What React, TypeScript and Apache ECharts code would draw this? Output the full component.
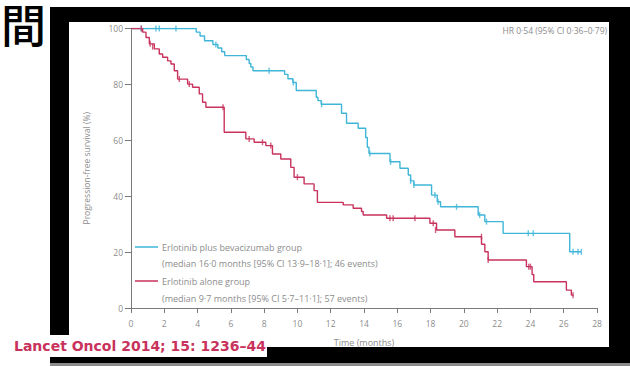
import React, { useEffect, useRef } from "react";
import * as echarts from "echarts";

// Kaplan-Meier steps: [time (months), progression-free survival (%)]
const comboKM: [number, number][] = [
  [0, 100], [3.92, 98.7], [4.15, 97.3], [4.42, 95.6], [4.92, 94.3], [5.22, 93.0],
  [5.45, 91.7], [5.63, 90.3], [6.93, 88.9], [7.1, 87.5], [7.2, 86.2], [7.33, 84.9],
  [9.23, 83.6], [9.43, 82.0], [9.73, 80.7], [9.93, 77.8], [11.13, 75.4], [11.23, 74.2],
  [11.43, 72.9], [12.65, 69.7], [12.95, 66.1], [13.65, 64.3], [14.1, 61.0], [14.2, 57.5],
  [14.3, 55.3], [15.56, 52.3], [16.16, 50.0], [16.66, 47.6], [16.8, 45.5], [17.0, 44.0],
  [18.06, 40.4], [18.4, 38.0], [18.6, 36.2], [20.86, 33.3], [21.26, 30.9], [22.36, 26.7],
  [26.36, 20.1], [27.06, 20.1],
];
const comboCensored: [number, number][] = [
  [0.62, 100], [1.5, 100], [1.7, 100], [2.7, 100], [5.1, 94.3], [8.3, 84.9], [9.75, 80.7],
  [11.45, 72.9], [14.35, 55.3], [15.6, 52.3], [16.8, 45.5], [17.0, 44.0], [18.26, 40.4],
  [18.45, 38.0], [19.56, 36.2], [20.95, 33.3], [21.36, 30.9], [23.87, 26.7], [24.17, 26.7],
  [26.56, 20.1], [26.86, 20.1], [27.06, 20.1],
];
const aloneKM: [number, number][] = [
  [0, 100], [0.7, 98.7], [0.9, 96.8], [1.1, 94.5], [1.4, 92.7], [1.7, 90.9], [1.9, 89.7],
  [2.2, 88.4], [2.4, 87.3], [2.6, 84.9], [2.8, 81.9], [3.4, 80.1], [3.7, 79.0], [4.1, 76.6],
  [4.3, 73.6], [4.5, 71.8], [5.6, 62.9], [6.9, 60.5], [7.4, 59.3], [8.1, 58.1], [8.5, 55.1],
  [9.0, 53.3], [9.6, 50.3], [9.8, 46.8], [10.4, 44.4], [11.0, 42.0], [11.2, 37.8],
  [12.75, 36.9], [13.35, 35.7], [13.85, 34.5], [13.95, 33.3], [15.36, 32.1], [17.96, 30.3],
  [18.36, 27.9], [19.46, 25.5], [21.06, 22.8], [21.26, 20.1], [21.46, 17.2], [23.76, 14.8],
  [24.1, 12.0], [24.2, 9.4], [26.16, 6.4], [26.46, 4.6], [26.6, 4.6],
];
const aloneCensored: [number, number][] = [
  [0.62, 100], [1.15, 94.5], [1.3, 93.5], [2.9, 81.9], [3.5, 80.1], [5.53, 71.8], [7.1, 60.5],
  [7.9, 59.3], [8.4, 58.1], [10.0, 46.8], [15.56, 32.1], [15.75, 32.1], [17.06, 32.1],
  [18.16, 30.3], [18.3, 27.9], [21.06, 25.5], [21.46, 17.2], [23.9, 14.8], [24.0, 14.8],
  [26.56, 4.6],
];

const groupNames = ["Erlotinib plus bevacizumab group", "Erlotinib alone group"];
const groupDetails = [
  "(median 16·0 months [95% CI 13·9–18·1]; 46 events)",
  "(median 9·7 months [95% CI 5·7–11·1]; 57 events)",
];
const hrText = "HR 0·54 (95% CI 0·36–0·79)";
const xTitle = "Time (months)";
const yTitle = "Progression-free survival (%)";
const citation = "Lancet Oncol 2014; 15: 1236–44";
const cornerChar = "間";

const BLUE = "#3fb6d8";
const RED = "#c8325c";
const GREY_TXT = "#8c8c8c";
const AXIS = "#7a7a7a";
const FONT = "'Open Sans', 'Noto Sans', sans-serif";

export default function App() {
  const ref = useRef<HTMLDivElement>(null);
  useEffect(() => {
    if (!ref.current) return;
    const chart = echarts.init(ref.current, undefined, { renderer: "svg" });
    const legendText = (x: number, y: number, t: string) => ({
      type: "text", x, y, z: 50,
      style: { text: t, fill: GREY_TXT, font: `9px ${FONT}`, textVerticalAlign: "middle" },
    });
    chart.setOption({
      animation: false,
      backgroundColor: "#ffffff",
      grid: { left: 131, right: 33, top: 28.5, bottom: 58 },
      xAxis: {
        type: "value", min: 0, max: 28, interval: 2,
        name: xTitle, nameLocation: "middle", nameGap: 30,
        nameTextStyle: { color: GREY_TXT, fontSize: 9, fontFamily: FONT },
        axisLine: { show: true, lineStyle: { color: AXIS, width: 1 } },
        axisTick: { show: true, length: 5, lineStyle: { color: AXIS } },
        axisLabel: { color: GREY_TXT, fontSize: 8.5, fontFamily: FONT, margin: 11 },
        splitLine: { show: false },
      },
      yAxis: {
        type: "value", min: 0, max: 100, interval: 20,
        name: yTitle, nameLocation: "middle", nameGap: 40,
        nameTextStyle: { color: GREY_TXT, fontSize: 8.5, fontFamily: FONT },
        axisLine: { show: true, lineStyle: { color: AXIS, width: 1 } },
        axisTick: { show: true, length: 6, lineStyle: { color: AXIS } },
        axisLabel: { color: GREY_TXT, fontSize: 8.5, fontFamily: FONT, margin: 8 },
        splitLine: { show: false },
      },
      series: [
        {
          type: "line", step: "end", data: comboKM, showSymbol: false, z: 3,
          lineStyle: { color: BLUE, width: 1.4 }, itemStyle: { color: BLUE },
        },
        {
          type: "scatter", data: comboCensored, symbol: "rect", symbolSize: [1.4, 6], z: 4,
          itemStyle: { color: BLUE },
        },
        {
          type: "line", step: "end", data: aloneKM, showSymbol: false, z: 3,
          lineStyle: { color: RED, width: 1.4 }, itemStyle: { color: RED },
        },
        {
          type: "scatter", data: aloneCensored, symbol: "rect", symbolSize: [1.4, 6], z: 4,
          itemStyle: { color: RED },
        },
      ],
      graphic: [
        { type: "line", z: 50, shape: { x1: 135, y1: 247, x2: 158, y2: 247 }, style: { stroke: BLUE, lineWidth: 1.5 } },
        legendText(162, 247, groupNames[0]),
        legendText(162, 263, groupDetails[0]),
        { type: "line", z: 50, shape: { x1: 135, y1: 281, x2: 158, y2: 281 }, style: { stroke: RED, lineWidth: 1.5 } },
        legendText(162, 281, groupNames[1]),
        legendText(162, 298, groupDetails[1]),
        {
          type: "text", x: 607, y: 30, z: 50,
          style: { text: hrText, fill: GREY_TXT, font: `8.5px ${FONT}`, textAlign: "right", textVerticalAlign: "middle" },
        },
        // black frame
        { type: "rect", z: 100, shape: { x: 50, y: 7, width: 580, height: 15 }, style: { fill: "#000" } },
        { type: "rect", z: 100, shape: { x: 50, y: 7, width: 19, height: 356 }, style: { fill: "#000" } },
        { type: "rect", z: 100, shape: { x: 609, y: 7, width: 21, height: 356 }, style: { fill: "#000" } },
        { type: "rect", z: 100, shape: { x: 50, y: 347, width: 580, height: 16 }, style: { fill: "#000" } },
        { type: "rect", z: 100, shape: { x: 50, y: 363, width: 580, height: 3 }, style: { fill: "#8a8a8a" } },
        // citation box
        { type: "rect", z: 110, shape: { x: 0, y: 335, width: 267, height: 22 }, style: { fill: "#fff" } },
        {
          type: "text", x: 14, y: 346, z: 111,
          style: { text: citation, fill: RED, font: `bold 14px 'DejaVu Sans', sans-serif`, textVerticalAlign: "middle" },
        },
        {
          type: "text", x: 1, y: 1, z: 111,
          style: { text: cornerChar, fill: "#000", font: `500 45px 'Noto Sans CJK TC', sans-serif`, textVerticalAlign: "top" },
        },
      ],
    });
    return () => chart.dispose();
  }, []);
  return (
    <div style={{ position: "fixed", left: 0, top: 0, width: 630, height: 366, background: "#fff" }}>
      <div ref={ref} style={{ width: 630, height: 366 }} />
    </div>
  );
}
